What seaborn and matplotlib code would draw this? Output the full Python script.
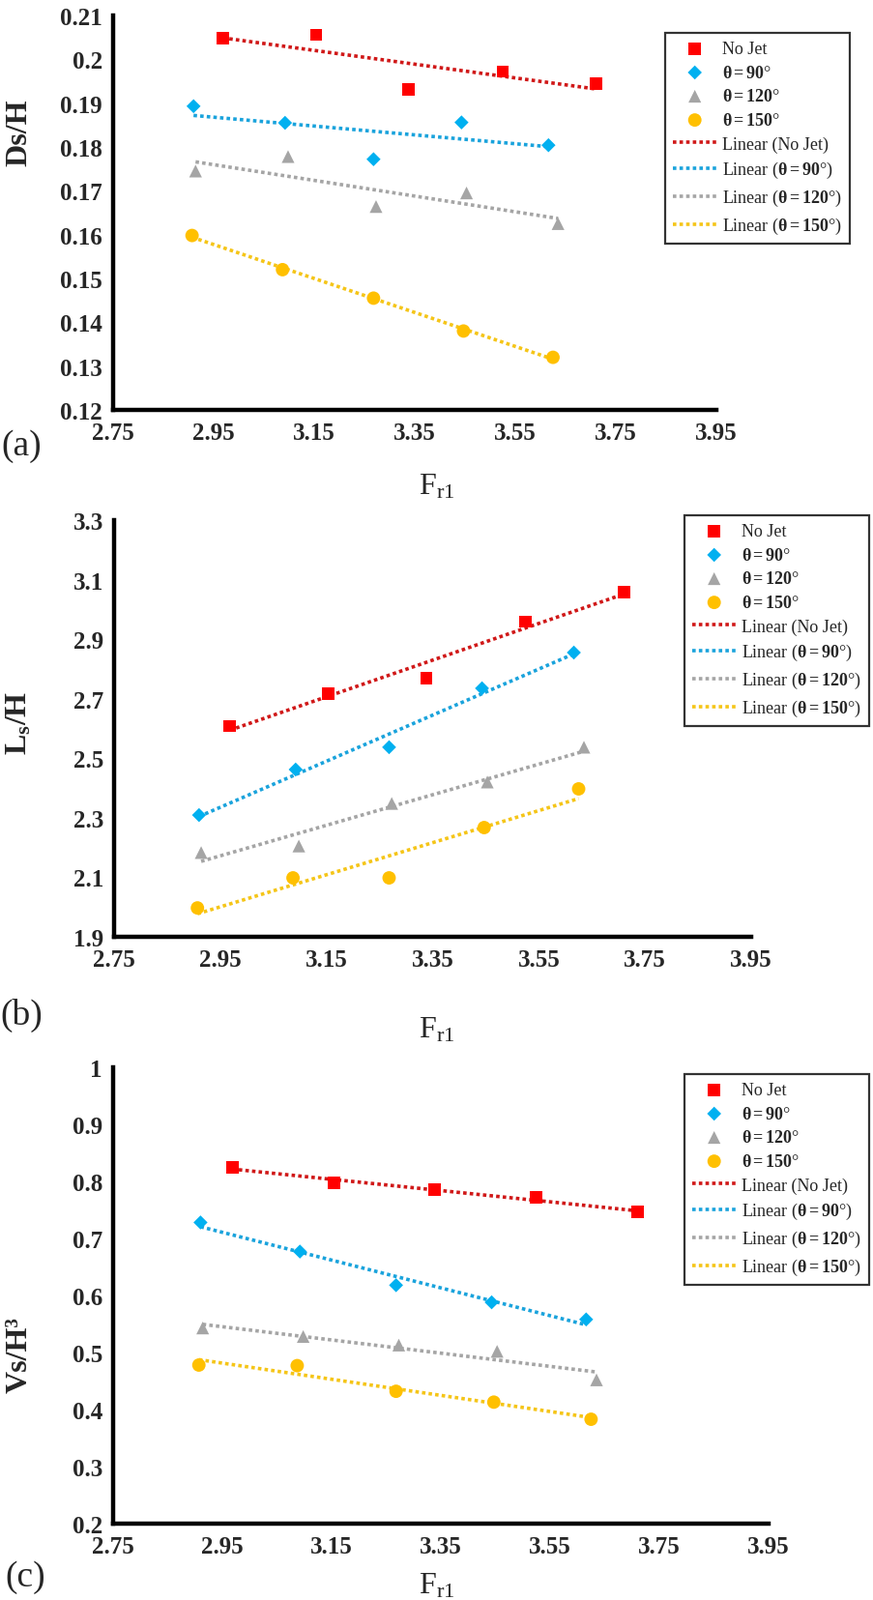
import numpy as np
import pandas as pd
import matplotlib
matplotlib.use("Agg")
import matplotlib.pyplot as plt
import seaborn as sns

# datos
fr_nojet = [2.968, 3.154, 3.338, 3.525, 3.710]
fr_90 = [2.910, 3.092, 3.268, 3.443, 3.616]
fr_120 = [2.914, 3.098, 3.273, 3.453, 3.635]
fr_150 = [2.907, 3.087, 3.268, 3.447, 3.625]

ds_nojet = [0.2049, 0.2056, 0.1931, 0.1972, 0.1945]
ds_90 = [0.1893, 0.1855, 0.1772, 0.1856, 0.1804]
ds_120 = [0.1745, 0.1778, 0.1664, 0.1695, 0.1625]
ds_150 = [0.1598, 0.1520, 0.1455, 0.1380, 0.1320]

ls_nojet = [2.608, 2.718, 2.770, 2.959, 3.059]
ls_90 = [2.309, 2.462, 2.537, 2.735, 2.855]
ls_120 = [2.183, 2.205, 2.348, 2.420, 2.537]
ls_150 = [1.997, 2.098, 2.098, 2.267, 2.397]

vs_nojet = [0.825, 0.797, 0.785, 0.772, 0.746]
vs_90 = [0.728, 0.677, 0.618, 0.588, 0.558]
vs_120 = [0.543, 0.528, 0.513, 0.502, 0.452]
vs_150 = [0.478, 0.477, 0.432, 0.413, 0.383]

series = ["No Jet", "90", "120", "150"]
x_ticks = [2.75, 2.95, 3.15, 3.35, 3.55, 3.75, 3.95]

sns.set_style("white")
plt.rcParams["font.family"] = ["Liberation Serif", "DejaVu Serif"]
plt.rcParams["mathtext.fontset"] = "custom"
plt.rcParams["mathtext.rm"] = "Liberation Serif"
plt.rcParams["mathtext.bf"] = "Liberation Serif:bold"
plt.rcParams["mathtext.it"] = "Liberation Serif:italic"

W, H = 904, 1656
fig = plt.figure(figsize=(W / 100, H / 100), dpi=100)

estilos = {
    "No Jet": dict(marker="s", mc="#FF0000", lc="#D01818", s=85),
    "90": dict(marker="D", mc="#00B0F0", lc="#1AA3DC", s=55),
    "120": dict(marker="^", mc="#A5A5A5", lc="#A5A5A5", s=90),
    "150": dict(marker="o", mc="#FFC000", lc="#F5C518", s=100),
}
etiq_punto = {
    "No Jet": "No Jet",
    "90": r"$\mathbf{\theta{=}90}$°",
    "120": r"$\mathbf{\theta{=}120}$°",
    "150": r"$\mathbf{\theta{=}150}$°",
}
etiq_linea = {
    "No Jet": "Linear (No Jet)",
    "90": r"Linear ($\mathbf{\theta{=}90}$°)",
    "120": r"Linear ($\mathbf{\theta{=}120}$°)",
    "150": r"Linear ($\mathbf{\theta{=}150}$°)",
}


def eje(px_left, px_right, px_top, px_bottom):
    return fig.add_axes([px_left / W, 1 - px_bottom / H,
                         (px_right - px_left) / W, (px_bottom - px_top) / H])


def panel(ax, xs, ys, ylim, yticks, ylabels, leg_xy):
    puntos, lineas = [], []
    for k, x, y in zip(series, xs, ys):
        st = estilos[k]
        df = pd.DataFrame({"x": x, "y": y})
        sns.regplot(data=df, x="x", y="y", ax=ax, scatter=False, ci=None,
                    line_kws=dict(color=st["lc"], lw=2.6, ls=(0, (1, 0.9))))
        lineas.append(ax.lines[-1])
        sns.scatterplot(data=df, x="x", y="y", ax=ax, marker=st["marker"],
                        color=st["mc"], s=st["s"], edgecolor="none", zorder=3)
        puntos.append(ax.collections[-1])
    ax.set_xlim(2.75, 3.95)
    ax.set_ylim(*ylim)
    ax.set_xticks(x_ticks)
    ax.set_xticklabels([f"{t:.2f}" for t in x_ticks])
    ax.set_yticks(yticks)
    ax.set_yticklabels(ylabels)
    ax.set_xlabel("")
    ax.set_ylabel("")
    sns.despine(ax=ax)
    for s in ["left", "bottom"]:
        ax.spines[s].set_linewidth(3.2)
        ax.spines[s].set_color("black")
    ax.tick_params(length=0, labelsize=18)
    ax.tick_params(axis="x", pad=9)
    ax.tick_params(axis="y", pad=8)
    for t in ax.get_xticklabels() + ax.get_yticklabels():
        t.set_fontweight("bold")
    handles = puntos + lineas
    labels = [etiq_punto[k] for k in series] + [etiq_linea[k] for k in series]
    leg = ax.legend(handles, labels, loc="upper left",
                    bbox_to_anchor=(leg_xy[0] / W, 1 - leg_xy[1] / H),
                    bbox_transform=fig.transFigure, fontsize=13,
                    frameon=True, fancybox=False, edgecolor="black",
                    handlelength=2.5, handletextpad=0.3, labelspacing=0.42,
                    borderpad=0.45, borderaxespad=0)
    leg.get_frame().set_linewidth(1.6)
    return ax


ax_a = eje(117, 741, 17, 425)
panel(ax_a, [fr_nojet, fr_90, fr_120, fr_150],
      [ds_nojet, ds_90, ds_120, ds_150], (0.12, 0.21),
      [0.12, 0.13, 0.14, 0.15, 0.16, 0.17, 0.18, 0.19, 0.2, 0.21],
      ["0.12", "0.13", "0.14", "0.15", "0.16", "0.17", "0.18", "0.19", "0.2", "0.21"],
      (688, 35))

ax_b = eje(118, 777, 539, 970)
panel(ax_b, [fr_nojet, fr_90, fr_120, fr_150],
      [ls_nojet, ls_90, ls_120, ls_150], (1.9, 3.3),
      [1.9, 2.1, 2.3, 2.5, 2.7, 2.9, 3.1, 3.3],
      ["1.9", "2.1", "2.3", "2.5", "2.7", "2.9", "3.1", "3.3"],
      (708, 534))

ax_c = eje(117, 795, 1105, 1577)
panel(ax_c, [fr_nojet, fr_90, fr_120, fr_150],
      [vs_nojet, vs_90, vs_120, vs_150], (0.2, 1.0),
      [0.2, 0.3, 0.4, 0.5, 0.6, 0.7, 0.8, 0.9, 1.0],
      ["0.2", "0.3", "0.4", "0.5", "0.6", "0.7", "0.8", "0.9", "1"],
      (708, 1112))

# rotulos de ejes y de paneles
def txt(x, y, s, **kw):
    fig.text(x / W, 1 - y / H, s, ha="center", va="center", **kw)

txt(20, 137, "Ds/H", rotation=90, fontsize=23, fontweight="bold")
txt(20, 748, r"$\mathbf{L_s/H}$", rotation=90, fontsize=23)
txt(20, 1402, "Vs/H³", rotation=90, fontsize=23, fontweight="bold")

txt(452, 504, r"$\mathrm{F_{r1}}$", fontsize=23)
txt(452, 1066, r"$\mathrm{F_{r1}}$", fontsize=23)
txt(452, 1641, r"$\mathrm{F_{r1}}$", fontsize=23)

txt(22, 462, "(a)", fontsize=27)
txt(22, 1050, "(b)", fontsize=27)
txt(26, 1632, "(c)", fontsize=27)

fig.savefig("out.png", dpi=100, facecolor="white")
